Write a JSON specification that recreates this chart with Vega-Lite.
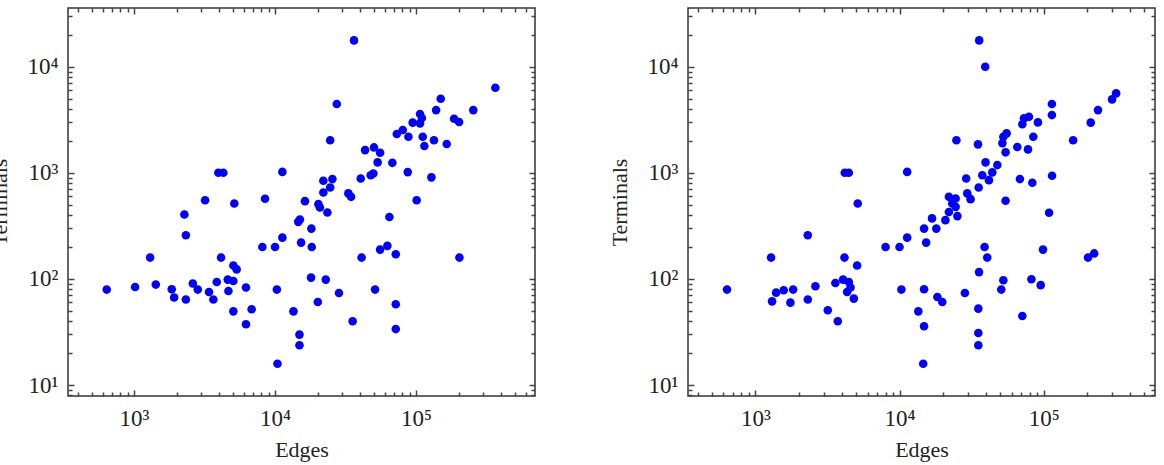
{
  "$schema": "https://vega.github.io/schema/vega-lite/v6.json",
  "autosize": {"type": "none"},
  "padding": {"left": 68, "top": 8, "right": 1096, "bottom": 457},
  "datasets": {
    "left": [{"e":3960,"t":1000},{"e":4300,"t":1000},{"e":11270,"t":1020},{"e":3190,"t":552},{"e":5140,"t":514},{"e":8490,"t":569},{"e":2275,"t":405},{"e":2330,"t":258},{"e":11270,"t":245},{"e":14600,"t":345},{"e":15000,"t":363},{"e":36300,"t":17700},{"e":27400,"t":4450},{"e":24600,"t":2030},{"e":365000,"t":6340},{"e":149600,"t":4990},{"e":138700,"t":3900},{"e":254600,"t":3900},{"e":186000,"t":3230},{"e":202000,"t":3010},{"e":106700,"t":3580},{"e":110000,"t":3280},{"e":106700,"t":2925},{"e":94600,"t":2970},{"e":80500,"t":2530},{"e":73000,"t":2320},{"e":88300,"t":2190},{"e":111500,"t":2190},{"e":114500,"t":1787},{"e":134000,"t":2030},{"e":165000,"t":1866},{"e":43500,"t":1637},{"e":50300,"t":1735},{"e":55600,"t":1545},{"e":53400,"t":1254},{"e":67900,"t":1242},{"e":87300,"t":1016},{"e":128500,"t":906},{"e":101000,"t":552},{"e":64700,"t":384},{"e":40500,"t":885},{"e":47700,"t":950},{"e":49800,"t":986},{"e":22000,"t":841},{"e":25500,"t":873},{"e":22000,"t":653},{"e":24600,"t":728},{"e":33100,"t":640},{"e":34600,"t":594},{"e":16300,"t":541},{"e":20300,"t":507},{"e":20800,"t":472},{"e":23500,"t":423},{"e":18100,"t":298},{"e":10000,"t":200},{"e":15300,"t":220},{"e":18200,"t":200},{"e":41100,"t":159},{"e":55600,"t":189},{"e":62600,"t":205},{"e":71800,"t":171},{"e":203000,"t":159},{"e":10300,"t":79.4},{"e":18000,"t":103},{"e":22900,"t":98.6},{"e":28400,"t":73.8},{"e":51200,"t":79.4},{"e":20100,"t":60.7},{"e":13500,"t":49.5},{"e":35500,"t":39.9},{"e":71800,"t":57.7},{"e":71800,"t":33.7},{"e":14900,"t":29.9},{"e":14900,"t":23.7},{"e":10400,"t":15.9},{"e":1300,"t":159},{"e":4140,"t":159},{"e":8130,"t":200},{"e":640,"t":79.4},{"e":1017,"t":84},{"e":1426,"t":88.5},{"e":1850,"t":80},{"e":1924,"t":66.8},{"e":2330,"t":64},{"e":2610,"t":90.6},{"e":2830,"t":79.4},{"e":3400,"t":75.3},{"e":3650,"t":64},{"e":3860,"t":93.7},{"e":4620,"t":98.6},{"e":5060,"t":95.7},{"e":4670,"t":77},{"e":5060,"t":134},{"e":5340,"t":123},{"e":6220,"t":83},{"e":5060,"t":49.5},{"e":6820,"t":51.8},{"e":6220,"t":37.4}],
    "right": [{"e":4170,"t":1000},{"e":4450,"t":1000},{"e":5130,"t":514},{"e":2310,"t":258},{"e":35700,"t":17700},{"e":39300,"t":10000},{"e":318000,"t":5610},{"e":298000,"t":4920},{"e":238000,"t":3900},{"e":212000,"t":2970},{"e":160000,"t":2030},{"e":114000,"t":4450},{"e":114000,"t":3500},{"e":91200,"t":2985},{"e":79000,"t":3370},{"e":73000,"t":3260},{"e":71100,"t":2865},{"e":84700,"t":2190},{"e":77800,"t":1663},{"e":65600,"t":1750},{"e":55300,"t":2355},{"e":52500,"t":2190},{"e":51700,"t":1905},{"e":54400,"t":1560},{"e":35000,"t":1854},{"e":24800,"t":2030},{"e":11300,"t":1020},{"e":39500,"t":1254},{"e":47700,"t":1183},{"e":44000,"t":1009},{"e":37500,"t":950},{"e":41700,"t":853},{"e":29000,"t":885},{"e":35400,"t":728},{"e":29500,"t":640},{"e":31100,"t":565},{"e":68400,"t":873},{"e":83400,"t":806},{"e":114300,"t":937},{"e":54400,"t":545},{"e":109000,"t":420},{"e":22000,"t":594},{"e":24500,"t":573},{"e":23200,"t":514},{"e":24500,"t":478},{"e":22000,"t":428},{"e":25200,"t":391},{"e":20800,"t":358},{"e":16800,"t":372},{"e":18000,"t":298},{"e":14800,"t":298},{"e":11300,"t":245},{"e":15300,"t":220},{"e":8000,"t":200},{"e":10000,"t":200},{"e":38900,"t":200},{"e":40600,"t":159},{"e":98900,"t":189},{"e":203000,"t":159},{"e":224000,"t":174},{"e":35600,"t":116},{"e":52500,"t":97.3},{"e":50800,"t":79.4},{"e":82200,"t":99.4},{"e":95300,"t":87.4},{"e":71100,"t":44.8},{"e":10300,"t":79.4},{"e":14800,"t":80},{"e":18300,"t":67.6},{"e":19800,"t":60.7},{"e":28400,"t":73.8},{"e":13500,"t":49.5},{"e":14800,"t":35.8},{"e":35200,"t":52.5},{"e":35200,"t":31},{"e":35200,"t":23.7},{"e":14600,"t":15.9},{"e":1285,"t":159},{"e":4150,"t":159},{"e":5080,"t":134},{"e":636,"t":79.4},{"e":1306,"t":61.5},{"e":1393,"t":74.3},{"e":1573,"t":78.2},{"e":1829,"t":79.4},{"e":1750,"t":59.8},{"e":2310,"t":64},{"e":2610,"t":85.3},{"e":3180,"t":50.7},{"e":3730,"t":39.9},{"e":3590,"t":91.6},{"e":4060,"t":98.6},{"e":4450,"t":93.7},{"e":4330,"t":75.3},{"e":4570,"t":83},{"e":4820,"t":65.3}]
  },
  "spacing": 153,
  "bounds": "flush",
  "hconcat": [
    {
      "data": {"name": "left"},
      "width": 467,
      "height": 388,
      "layer": [
        {
          "mark": {"type": "point", "shape": "circle", "filled": true, "color": "#0000ff", "opacity": 1, "size": 74, "strokeWidth": 0},
          "encoding": {
            "x": {"field": "e", "type": "quantitative", "scale": {"type": "log", "domain": [340, 697500], "nice": false, "zero": false},
              "axis": {"orient": "bottom", "title": "Edges", "values": [1000,10000,100000], "offset": -6, "tickSize": 6,
                "labelExpr": "'10' + ['⁰','¹','²','³','⁴','⁵','⁶','⁷'][round(log(datum.value)/LN10)]",
                "labelPadding": 11, "titlePadding": 9}},
            "y": {"field": "t", "type": "quantitative", "scale": {"type": "log", "domain": [7.89, 35730], "nice": false, "zero": false},
              "axis": {"orient": "left", "title": "Terminals", "values": [10,100,1000,10000], "offset": -6, "tickSize": 6,
                "labelExpr": "'10' + ['⁰','¹','²','³','⁴','⁵','⁶','⁷'][round(log(datum.value)/LN10)]",
                "labelPadding": 10, "titlePadding": 15}}
          }
        },
        {
          "mark": {"type": "point", "opacity": 0},
          "encoding": {
            "x": {"field": "e", "type": "quantitative", "scale": {"type": "log", "domain": [340, 697500], "nice": false, "zero": false},
              "axis": {"orient": "top", "title": null, "labels": false, "values": [1000,10000,100000], "offset": -6, "tickSize": 6}},
            "y": {"field": "t", "type": "quantitative", "scale": {"type": "log", "domain": [7.89, 35730], "nice": false, "zero": false},
              "axis": {"orient": "right", "title": null, "labels": false, "values": [10,100,1000,10000], "offset": -6, "tickSize": 6}}
          }
        },
        {
          "mark": {"type": "point", "opacity": 0},
          "encoding": {
            "x": {"field": "e", "type": "quantitative", "scale": {"type": "log", "domain": [340, 697500], "nice": false, "zero": false},
              "axis": {"orient": "bottom", "title": null, "labels": false, "values": [400,500,600,700,800,900,2000,3000,4000,5000,6000,7000,8000,9000,20000,30000,40000,50000,60000,70000,80000,90000,200000,300000,400000,500000,600000], "offset": -4, "tickSize": 4}},
            "y": {"field": "t", "type": "quantitative", "scale": {"type": "log", "domain": [7.89, 35730], "nice": false, "zero": false},
              "axis": {"orient": "left", "title": null, "labels": false, "values": [8,9,20,30,40,50,60,70,80,90,200,300,400,500,600,700,800,900,2000,3000,4000,5000,6000,7000,8000,9000,20000,30000], "offset": -4, "tickSize": 4}}
          }
        },
        {
          "mark": {"type": "point", "opacity": 0},
          "encoding": {
            "x": {"field": "e", "type": "quantitative", "scale": {"type": "log", "domain": [340, 697500], "nice": false, "zero": false},
              "axis": {"orient": "top", "title": null, "labels": false, "values": [400,500,600,700,800,900,2000,3000,4000,5000,6000,7000,8000,9000,20000,30000,40000,50000,60000,70000,80000,90000,200000,300000,400000,500000,600000], "offset": -4, "tickSize": 4}},
            "y": {"field": "t", "type": "quantitative", "scale": {"type": "log", "domain": [7.89, 35730], "nice": false, "zero": false},
              "axis": {"orient": "right", "title": null, "labels": false, "values": [8,9,20,30,40,50,60,70,80,90,200,300,400,500,600,700,800,900,2000,3000,4000,5000,6000,7000,8000,9000,20000,30000], "offset": -4, "tickSize": 4}}
          }
        }
      ],
      "resolve": {"axis": {"x": "independent", "y": "independent"}}
    },
    {
      "data": {"name": "right"},
      "width": 467,
      "height": 388,
      "layer": [
        {
          "mark": {"type": "point", "shape": "circle", "filled": true, "color": "#0000ff", "opacity": 1, "size": 74, "strokeWidth": 0},
          "encoding": {
            "x": {"field": "e", "type": "quantitative", "scale": {"type": "log", "domain": [341, 591600], "nice": false, "zero": false},
              "axis": {"orient": "bottom", "title": "Edges", "values": [1000,10000,100000], "offset": -6, "tickSize": 6,
                "labelExpr": "'10' + ['⁰','¹','²','³','⁴','⁵','⁶','⁷'][round(log(datum.value)/LN10)]",
                "labelPadding": 11, "titlePadding": 9}},
            "y": {"field": "t", "type": "quantitative", "scale": {"type": "log", "domain": [7.89, 35730], "nice": false, "zero": false},
              "axis": {"orient": "left", "title": "Terminals", "values": [10,100,1000,10000], "offset": -6, "tickSize": 6,
                "labelExpr": "'10' + ['⁰','¹','²','³','⁴','⁵','⁶','⁷'][round(log(datum.value)/LN10)]",
                "labelPadding": 10, "titlePadding": 15}}
          }
        },
        {
          "mark": {"type": "point", "opacity": 0},
          "encoding": {
            "x": {"field": "e", "type": "quantitative", "scale": {"type": "log", "domain": [341, 591600], "nice": false, "zero": false},
              "axis": {"orient": "top", "title": null, "labels": false, "values": [1000,10000,100000], "offset": -6, "tickSize": 6}},
            "y": {"field": "t", "type": "quantitative", "scale": {"type": "log", "domain": [7.89, 35730], "nice": false, "zero": false},
              "axis": {"orient": "right", "title": null, "labels": false, "values": [10,100,1000,10000], "offset": -6, "tickSize": 6}}
          }
        },
        {
          "mark": {"type": "point", "opacity": 0},
          "encoding": {
            "x": {"field": "e", "type": "quantitative", "scale": {"type": "log", "domain": [341, 591600], "nice": false, "zero": false},
              "axis": {"orient": "bottom", "title": null, "labels": false, "values": [400,500,600,700,800,900,2000,3000,4000,5000,6000,7000,8000,9000,20000,30000,40000,50000,60000,70000,80000,90000,200000,300000,400000,500000], "offset": -4, "tickSize": 4}},
            "y": {"field": "t", "type": "quantitative", "scale": {"type": "log", "domain": [7.89, 35730], "nice": false, "zero": false},
              "axis": {"orient": "left", "title": null, "labels": false, "values": [8,9,20,30,40,50,60,70,80,90,200,300,400,500,600,700,800,900,2000,3000,4000,5000,6000,7000,8000,9000,20000,30000], "offset": -4, "tickSize": 4}}
          }
        },
        {
          "mark": {"type": "point", "opacity": 0},
          "encoding": {
            "x": {"field": "e", "type": "quantitative", "scale": {"type": "log", "domain": [341, 591600], "nice": false, "zero": false},
              "axis": {"orient": "top", "title": null, "labels": false, "values": [400,500,600,700,800,900,2000,3000,4000,5000,6000,7000,8000,9000,20000,30000,40000,50000,60000,70000,80000,90000,200000,300000,400000,500000], "offset": -4, "tickSize": 4}},
            "y": {"field": "t", "type": "quantitative", "scale": {"type": "log", "domain": [7.89, 35730], "nice": false, "zero": false},
              "axis": {"orient": "right", "title": null, "labels": false, "values": [8,9,20,30,40,50,60,70,80,90,200,300,400,500,600,700,800,900,2000,3000,4000,5000,6000,7000,8000,9000,20000,30000], "offset": -4, "tickSize": 4}}
          }
        }
      ],
      "resolve": {"axis": {"x": "independent", "y": "independent"}}
    }
  ],
  "config": {
    "background": "white",
    "view": {"stroke": "#333333", "strokeWidth": 1.5},
    "axis": {"domain": false, "grid": false, "ticks": true, "tickColor": "#444444", "tickWidth": 1.5, "tickOpacity": 1, "labelFont": "Liberation Serif", "labelFontSize": 23, "labelColor": "#222222", "titleFont": "Liberation Serif", "titleFontSize": 22, "titleFontWeight": "normal", "titleColor": "#222222", "labelFlush": false, "labelOverlap": false, "labelBound": false}
  }
}
